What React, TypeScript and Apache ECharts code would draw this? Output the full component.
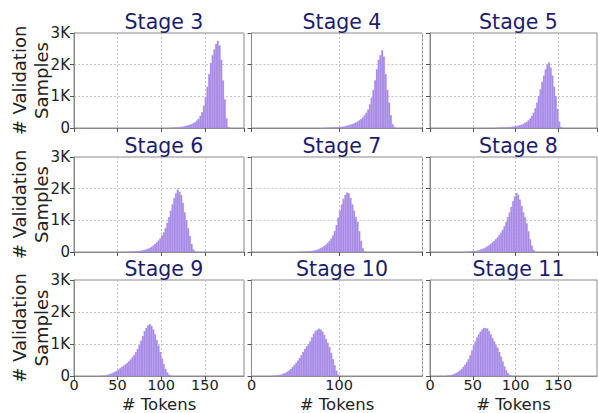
import React, { useEffect, useRef } from "react";
import * as echarts from "echarts";

const BIN = 2;
const stageNames = ["Stage 3", "Stage 4", "Stage 5", "Stage 6", "Stage 7", "Stage 8", "Stage 9", "Stage 10", "Stage 11"];
const stageStarts = [110, 84, 76, 60, 52, 40, 30, 24, 18];

const stage3 = [3, 5, 8, 12, 18, 25, 32, 42, 55, 70, 85, 100, 120, 150, 185, 230, 290, 380, 500, 700, 980, 1300, 1700, 2050, 2300, 2480, 2650, 2750, 2600, 2150, 1500, 900, 300, 30];
const stage4 = [3, 5, 8, 10, 13, 16, 20, 25, 30, 36, 45, 55, 68, 85, 105, 125, 145, 170, 200, 240, 280, 330, 400, 480, 580, 750, 960, 1200, 1500, 1850, 2150, 2300, 2450, 2250, 1700, 1200, 800, 400, 120, 20];
const stage5 = [3, 5, 8, 10, 13, 16, 20, 24, 28, 33, 40, 48, 58, 70, 85, 100, 125, 155, 190, 240, 300, 380, 480, 620, 800, 1000, 1220, 1450, 1650, 1850, 2000, 2070, 1900, 1650, 1300, 1000, 600, 200, 30];
const stage6 = [3, 5, 7, 10, 14, 18, 24, 30, 40, 52, 65, 80, 100, 125, 160, 200, 250, 300, 360, 430, 520, 620, 750, 920, 1100, 1300, 1500, 1700, 1850, 1970, 1900, 1800, 1550, 1250, 1000, 750, 500, 250, 80, 10];
const stage7 = [3, 4, 6, 8, 10, 13, 17, 22, 30, 40, 52, 70, 90, 120, 150, 190, 230, 280, 340, 420, 520, 660, 850, 1080, 1300, 1500, 1680, 1800, 1870, 1850, 1700, 1500, 1300, 1100, 950, 650, 350, 120, 15];
const stage8 = [3, 5, 8, 12, 17, 22, 30, 40, 55, 72, 90, 110, 140, 175, 210, 250, 300, 350, 400, 460, 530, 610, 700, 810, 950, 1100, 1250, 1420, 1600, 1750, 1860, 1800, 1650, 1450, 1250, 1100, 900, 650, 400, 200, 60, 8];
const stage9 = [3, 8, 15, 25, 40, 55, 75, 100, 130, 160, 200, 240, 280, 320, 360, 400, 450, 510, 580, 650, 740, 840, 960, 1100, 1250, 1400, 1500, 1580, 1620, 1560, 1450, 1300, 1120, 950, 750, 550, 370, 220, 110, 40, 8];
const stage10 = [3, 8, 15, 25, 38, 55, 75, 100, 130, 170, 220, 280, 340, 410, 480, 560, 650, 750, 840, 920, 990, 1080, 1200, 1320, 1400, 1440, 1480, 1450, 1380, 1280, 1150, 1030, 900, 720, 520, 330, 160, 40];
const stage11 = [3, 8, 18, 30, 50, 70, 95, 130, 170, 220, 280, 350, 430, 520, 640, 800, 950, 1080, 1200, 1300, 1380, 1450, 1500, 1490, 1480, 1400, 1300, 1180, 1080, 980, 880, 750, 600, 450, 300, 180, 90, 30, 5];
const stageValues = [stage3, stage4, stage5, stage6, stage7, stage8, stage9, stage10, stage11];

const xMax = 195;
const colXInterval = [50, 100, 50];

const FONT = "DejaVu Sans";
const colLeft = [74, 251.5, 430];
const colWidth = [170, 171, 167];
const rowTop = [33, 157, 280];
const rowHeight = [95, 95, 96];

export default function App() {
  const ref = useRef<HTMLDivElement>(null);
  useEffect(() => {
    if (!ref.current) return;
    const chart = echarts.init(ref.current, undefined, { renderer: "svg" });
    const grids: any[] = [];
    const xAxes: any[] = [];
    const yAxes: any[] = [];
    const series: any[] = [];
    const titles: any[] = [];
    const graphics: any[] = [];
    for (let i = 0; i < 9; i++) {
      const r = Math.floor(i / 3);
      const c = i % 3;
      grids.push({
        left: colLeft[c],
        top: rowTop[r],
        width: colWidth[c],
        height: rowHeight[r],
        show: true,
        borderColor: "#8a8a8a",
        borderWidth: 1,
        containLabel: false,
      });
      xAxes.push({
        type: "value",
        gridIndex: i,
        min: 0,
        max: xMax,
        interval: colXInterval[c],
        axisLine: { show: true, onZero: false, lineStyle: { color: "#8a8a8a" } },
        axisTick: { show: true, length: 4, lineStyle: { color: "#555" } },
        axisLabel: {
          show: r === 2,
          fontFamily: FONT,
          fontSize: 14.5,
          color: "#222",
          margin: 1,
          showMaxLabel: false,
        },
        splitLine: { show: true, lineStyle: { color: "#c4c4c4", type: [2, 2], width: 1 } },
      });
      yAxes.push({
        type: "value",
        gridIndex: i,
        min: 0,
        max: 3000,
        interval: 1000,
        axisLine: { show: true, lineStyle: { color: "#8a8a8a" } },
        axisTick: { show: true, length: 4, lineStyle: { color: "#555" } },
        axisLabel: {
          show: c === 0,
          fontFamily: FONT,
          fontSize: 15,
          color: "#222",
          margin: 4,
          formatter: (v: number) => (v === 0 ? "0" : v / 1000 + "K"),
        },
        splitLine: { show: true, lineStyle: { color: "#c4c4c4", type: [2, 2], width: 1 } },
      });
      const start = stageStarts[i];
      const data = stageValues[i].map((v, k) => [start + k * BIN, start + (k + 1) * BIN, v]);
      series.push({
        type: "custom",
        xAxisIndex: i,
        yAxisIndex: i,
        data,
        renderItem: (params: any, api: any) => {
          const p0 = api.coord([api.value(0), api.value(2)]);
          const p1 = api.coord([api.value(1), 0]);
          return {
            type: "rect",
            shape: { x: p0[0], y: p0[1], width: p1[0] - p0[0], height: p1[1] - p0[1] },
            style: { fill: "#a88be8", stroke: "#b39bec", lineWidth: 0.25 },
          };
        },
      });
      titles.push({
        text: stageNames[i],
        left: colLeft[c] + colWidth[c] / 2,
        textAlign: "center",
        top: rowTop[r] - 27,
        textStyle: { fontFamily: FONT, fontSize: 20.5, fontWeight: "normal", color: "#1c1c6e" },
      });
    }
    for (let r = 0; r < 3; r++) {
      graphics.push({
        type: "text",
        x: 30,
        y: rowTop[r] + rowHeight[r] / 2,
        rotation: Math.PI / 2,
        style: {
          text: "# Validation\nSamples",
          font: `18px "${FONT}"`,
          fill: "#222",
          textAlign: "center",
          textVerticalAlign: "middle",
          lineHeight: 22,
        },
      });
    }
    for (let c = 0; c < 3; c++) {
      graphics.push({
        type: "text",
        x: colLeft[c] + colWidth[c] / 2,
        y: 404,
        style: {
          text: "# Tokens",
          font: `16.5px "${FONT}"`,
          fill: "#222",
          textAlign: "center",
          textVerticalAlign: "middle",
        },
      });
    }
    chart.setOption({
      animation: false,
      backgroundColor: "#fff",
      title: titles,
      grid: grids,
      xAxis: xAxes,
      yAxis: yAxes,
      series,
      graphic: graphics,
    });
    return () => chart.dispose();
  }, []);
  return <div ref={ref} style={{ position: "fixed", left: 0, top: 0, width: 598, height: 413 }} />;
}
